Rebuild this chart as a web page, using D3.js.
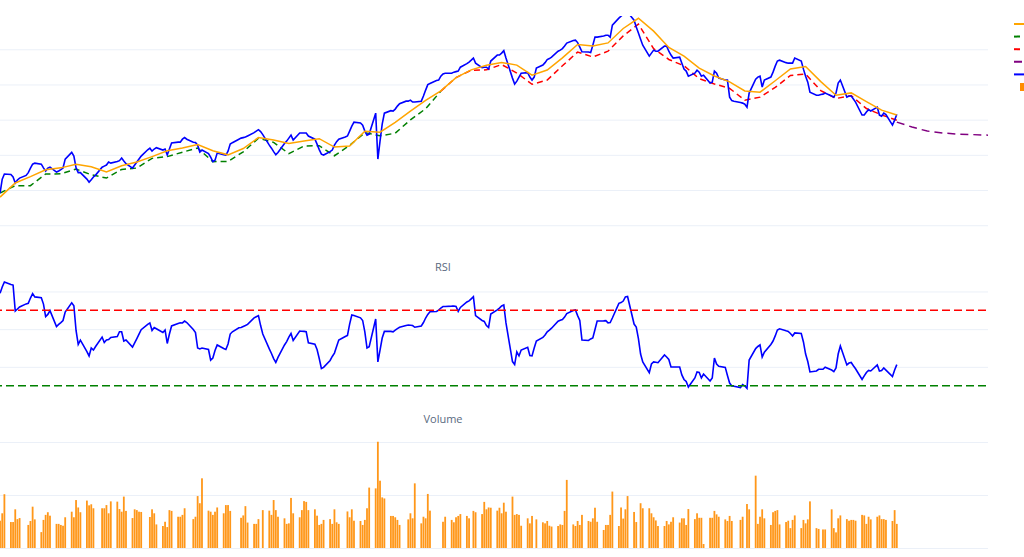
<!DOCTYPE html>
<html><head><meta charset="utf-8">
<script src="https://cdn.jsdelivr.net/npm/d3@7"></script>
<style>body{margin:0;background:#fff;overflow:hidden}svg{display:block}</style>
</head><body>
<svg id="chart" width="1024" height="557"></svg>
<script>
// ---------------- DATA ----------------
const startDate = "2023-12-13";   // first trading day shown
const endDate   = "2025-01-29";   // last trading day
// daily close (one value per weekday, Wed 2023-12-13 … Wed 2025-01-29)
const closeValues = [
118.3,126.2,129.1,
128.8,127.4,124.0,125.7,126.8, 128.3,129.9,132.5,134.7,135.3, 134.7,132.6,130.8,132.5,133.0,
130.2,130.8,131.6,132.5,137.6, 141.4,139.3,132.6,129.9,129.9, 126.2,124.5,125.9,127.4,128.5,
133.0,133.6,134.2,135.9,135.3, 136.2,136.7,138.2,136.5,135.0, 132.5,134.2,135.9,137.6,139.3,
142.9,143.8,142.1,143.3,144.1, 142.7,143.3,139.9,143.3,146.7, 147.2,147.2,148.9,149.8,148.9,
147.2,147.0,145.5,141.6,142.7, 140.7,138.7,136.2,137.0,141.0, 140.1,139.9,142.1,146.1,146.9,
148.9,149.5,149.8,150.1,150.7, 152.6,153.5,154.3,153.2,151.5, 145.5,143.8,141.8,140.1,141.3,
146.4,147.8,149.5,151.2,148.4, 152.4,152.4,152.4,152.4,150.7, 148.9,146.1,143.0,140.4,139.9,
141.8,142.7,145.5,147.5,148.9, 150.1,150.7,153.5,156.3,158.6, 158.1,156.9,153.5,151.2,151.8,
163.7,137.6,147.8,157.5,163.7, 165.1,164.9,166.0,167.7,169.1, 170.5,170.5,171.1,170.0,170.0,
170.5,173.4,176.8,179.9,180.5, 182.2,182.5,184.7,186.0,186.4, 186.4,187.0,187.3,187.6,189.8,
191.8,192.7,193.8,195.0,192.1, 189.6,189.8,189.8,188.7,193.3, 196.7,196.7,197.8,199.2,195.0,
183.6,180.2,181.9,184.2,186.4, 186.7,184.2,182.5,184.2,189.3, 191.0,192.4,194.1,194.7,195.5,
198.9,199.5,200.4,201.8,203.5, 205.0,205.2,203.8,201.2,198.6, 198.4,198.1,202.3,206.9,206.9,
207.5,208.0,208.0,206.9,213.7, 217.7,218.8,219.9,220.5,221.1, 216.5,212.6,209.2,205.7,202.3,
196.1,197.8,199.5,198.9,198.9, 201.8,201.8,198.9,196.7,195.0, 195.5,192.1,188.7,187.6,184.7,
186.4,188.1,187.0,184.7,185.3, 180.8,181.3,187.6,186.4,183.6, 182.5,182.5,172.8,170.8,170.5,
169.7,169.4,168.8,167.1,175.1, 183.0,184.2,184.7,178.5,182.5, 184.2,187.0,190.4,193.3,193.8,
192.4,192.1,192.1,192.1,195.0, 193.3,188.7,184.7,181.3,175.6, 173.9,173.9,174.3,174.5,175.1,
173.4,172.8,175.1,180.8,182.5, 172.8,173.4,173.4,171.7,170.0, 162.6,162.6,164.3,165.7,164.9,
167.1,162.6,162.0,163.7,162.9, 156.9,159.7,163.1
];
const rsiValues = [
79.0,82.4,85.0,
83.7,83.4,69.6,70.7,71.8, 73.4,73.7,76.5,78.9,77.1, 76.7,73.3,66.7,67.8,69.8,
61.4,62.5,63.5,64.6,69.1, 74.0,72.4,59.3,51.9,54.2, 48.1,45.8,50.0,48.9,50.8,
55.8,52.9,54.2,54.5,55.6, 56.1,58.6,58.6,53.7,54.2, 50.5,52.7,55.0,57.4,59.7,
62.5,63.3,59.3,60.9,60.2, 58.2,59.5,52.4,57.4,61.7, 63.0,63.4,63.3,64.3,63.5,
59.8,58.2,50.0,49.5,50.0, 49.2,43.6,44.7,48.7,51.6, 49.7,49.2,52.1,57.4,58.6,
60.7,60.9,61.4,61.9,62.5, 66.0,66.6,67.2,61.9,57.4, 49.5,47.1,44.4,42.3,45.0,
51.6,53.4,55.8,57.7,54.0, 59.0,58.9,58.8,58.6,52.8, 52.0,49.2,44.4,39.1,39.7,
43.4,45.5,47.3,50.8,54.2, 56.1,56.7,62.7,67.5,67.2, 66.0,64.6,58.5,50.0,50.7,
65.4,42.6,48.9,55.3,58.8, 58.8,58.6,59.5,60.3,61.0, 61.9,62.2,62.1,61.9,61.0,
61.7,63.5,65.9,67.8,69.2, 69.4,70.1,71.2,72.0,72.0, 72.2,72.3,72.0,69.4,71.5,
74.4,75.0,76.1,77.2,67.2, 64.6,64.1,61.9,60.9,68.0, 70.2,71.2,72.3,72.8,63.3,
42.8,41.2,47.9,45.8,48.9, 50.4,46.0,45.8,50.0,53.7, 55.6,56.9,58.6,59.5,60.5,
64.2,64.7,65.1,66.4,68.3, 69.9,70.2,67.2,64.6,54.2, 54.0,54.8,55.3,59.8,64.3,
64.4,64.5,63.3,63.5,65.9, 73.7,74.1,74.9,77.1,77.3, 62.7,61.1,55.0,46.8,42.6,
36.9,41.5,42.6,42.4,42.2, 46.3,45.2,43.9,39.9,39.9, 39.9,35.7,33.3,32.2,29.3,
34.1,37.3,37.0,34.1,36.2, 32.5,34.1,44.7,41.5,40.3, 39.7,35.4,31.4,29.8,29.7,
29.0,30.6,29.8,28.6,43.6, 49.7,50.8,51.6,45.2,47.8, 51.9,53.7,56.4,59.5,60.2,
59.1,58.8,57.7,56.4,58.0, 57.7,53.2,46.8,42.8,37.3, 37.8,38.7,38.7,38.7,39.8,
38.3,37.5,39.4,46.8,51.1, 41.0,42.0,42.3,40.6,39.0, 33.3,35.2,37.0,38.1,37.8,
41.0,37.8,38.1,39.4,38.3, 34.9,38.3,41.2
];
// volume in millions (null = no trading record that day)
const volumeValues = [
10.3,13.1,20.3,
9.8,9.8,14.6,10.9,11.3, null,8.7,10.2,15.6,10.8, 6.0,10.6,12.5,13.5,12.2,
9.1,9.1,8.7,8.4,11.6, 13.7,11.6,18.1,15.3,13.5, 17.9,16.1,16.5,15.0,null,
15.0,15.0,16.2,13.1,17.6, 17.5,14.7,13.7,19.4,14.0, 11.3,14.6,14.3,13.7,13.6,
null,11.7,14.6,13.1,8.9, 8.3,9.9,7.9,14.3,14.0, 11.8,11.8,12.5,15.0,null,
10.9,11.8,19.6,16.9,26.3, 14.1,13.7,12.5,13.7,15.3, 13.1,16.2,16.2,14.0,null,
null,11.4,12.3,15.8,9.6, 9.1,9.1,10.9,null,14.3, 14.1,12.5,18.1,14.3,11.8,
11.2,9.1,9.3,18.9,13.1, 11.6,14.3,17.7,17.4,14.3, 14.6,12.2,8.7,9.1,10.6,
10.9,9.1,14.6,9.7,9.1, null,13.8,11.6,14.6,10.3, 10.2,8.7,10.6,15.0,22.8,
22.5,40.1,25.4,19.1,18.7, 12.1,12.1,11.6,10.6,8.7, null,10.8,13.1,11.2,24.4,
9.3,11.8,11.2,20.4,14.1, null,null,null,9.9,11.8, 10.6,9.7,11.6,12.1,12.8,
12.1,11.2,null,14.0,13.5, 12.8,17.4,14.6,15.3,15.2, 14.1,15.2,13.1,17.1,13.7,
19.4,12.5,12.8,12.5,8.4, 11.2,9.3,12.1,null,10.8, 9.7,9.3,10.2,8.4,8.1,
8.3,8.9,8.7,14.0,25.7, 8.9,8.3,10.2,8.7,12.5, 10.2,9.9,11.2,15.2,9.9,
6.8,8.7,8.7,12.5,21.3, 8.3,15.3,11.1,14.6,19.6, 13.6,9.8,null,16.9,15.0,
15.0,13.1,11.6,10.4,8.3, 8.3,10.2,8.9,9.9,11.6, 9.6,11.2,11.2,8.7,14.7,
10.9,13.1,11.4,11.4,1.5, 11.4,11.4,14.0,12.7,11.8, 10.8,10.2,12.1,10.2,null,
10.6,11.8,null,16.6,14.6, 27.3,9.1,11.8,14.6,11.2, 8.7,13.5,14.0,14.3,8.9,
9.8,10.3,7.5,10.6,12.3, 7.5,10.6,9.3,10.8,17.6, 7.5,7.2,null,7.0,7.0,
14.6,7.5,5.9,11.2,12.3, 10.9,10.3,10.6,10.6,10.3, 12.5,12.3,9.1,11.8,10.8,
11.8,12.3,10.9,10.9,10.6, 10.2,14.3,9.1
];
// moving averages, read once a week (every Wednesday from 2023-12-13)
const smaFastValues = [116.0,124.0,127.6,131.5,132.6,134.7,133.2,130.3,133.8,135.9,
139.0,142.3,143.9,145.8,142.3,140.0,143.6,149.8,148.4,146.4,
147.9,149.2,144.4,145.0,153.4,152.9,158.4,164.8,171.0,176.4,
183.9,188.3,190.9,192.5,191.0,185.3,188.2,195.1,202.7,201.9,
203.6,211.8,217.6,210.3,201.0,196.1,189.3,184.8,181.5,176.3,
175.6,182.1,188.8,190.2,181.6,173.9,175.2,170.2,165.4,162.6];
const smaSlowValues = [118.3,122.5,122.5,129.1,129.2,131.9,128.7,126.8,131.7,132.5,
138.0,139.0,141.5,143.9,136.1,136.3,141.7,149.4,147.1,140.7,
145.0,145.2,139.5,145.4,152.6,150.8,152.3,159.9,166.2,176.2,
183.9,188.1,188.3,191.3,186.5,180.1,182.5,190.6,198.4,195.6,
198.9,207.6,214.3,200.3,194.2,190.6,183.3,180.3,177.8,171.0,
172.8,178.3,185.1,185.9,176.5,172.0,173.7,166.3,162.7,159.7];
const trendChangeWeek = 29;            // slow SMA: uptrend (green) up to here, downtrend (red) after
const forecastDates  = ["2025-01-29","2025-02-05","2025-02-12","2025-02-19","2025-02-26","2025-03-05","2025-03-12"];
const forecastValues = [158.6,155.8,153.5,152.4,151.8,151.5,151.2];
const monthTicks  = ["2024-01-01","2024-03-01","2024-05-01","2024-07-01","2024-09-01","2024-11-01","2025-01-01","2025-03-01"];
const priceTicks  = [100,120,140,160,180,200];
const rsiTicks    = [40,60,80];
const rsiLevels   = [70,30];
const volumeTicks = [0,20,40];
const legendNames = ["SMA 20","SMA 50 ↑","SMA 50 ↓","Forecast","Close","Volume"];

// ---------------- CHART ----------------
const parse = d3.utcParse("%Y-%m-%d");
const days = d3.utcDay.range(parse(startDate), d3.utcDay.offset(parse(endDate), 1))
  .filter(d => d.getUTCDay() !== 0 && d.getUTCDay() !== 6);
const weeks = d3.utcWednesday.range(parse(startDate), d3.utcDay.offset(parse(endDate), 1));

const svg = d3.select("#chart");
const L = -102, R = 988;
const x = d3.scaleUtc().domain([parse("2023-10-27"), parse("2025-03-12")]).range([L, R]);

const P = {top:16, bottom:246}, Q = {top:272.6, bottom:397}, V = {top:424.8, bottom:548};
const yP = d3.scaleLinear().domain([88.2, 218.9]).range([P.bottom, P.top]);
const yR = d3.scaleLinear().domain([24, 90]).range([Q.bottom, Q.top]);
const yV = d3.scaleLinear().domain([0, 46.5]).range([V.bottom, V.top]);

const defs = svg.append("defs");
[["clipP",P],["clipR",Q],["clipV",V]].forEach(([id,b]) =>
  defs.append("clipPath").attr("id", id).append("rect")
    .attr("x", L).attr("y", b.top).attr("width", R - L).attr("height", b.bottom - b.top));

const grid = "#ebf0f8";
function gridAxis(scale, ticks){
  const g = svg.append("g").attr("transform", `translate(${L},0)`)
    .call(d3.axisLeft(scale).tickValues(ticks).tickSize(-(R - L)).tickFormat(""));
  g.select(".domain").remove();
  g.selectAll(".tick line").attr("stroke", grid).attr("stroke-width", 1);
  return g;
}
gridAxis(yP, priceTicks);
gridAxis(yR, rsiTicks);
gridAxis(yV, volumeTicks);

// subplot titles
[["RSI", Q.top - 2], ["Volume", V.top - 2]].forEach(([t, yy]) =>
  svg.append("text").attr("x", (L + R) / 2).attr("y", yy).attr("text-anchor", "middle")
    .attr("font-family", "Open Sans").attr("font-size", 11).attr("fill", "#5a6a80").text(t));

// x tick labels (bottom axis, mostly below the visible area)
svg.append("g").attr("transform", `translate(0,${V.bottom})`)
  .call(d3.axisBottom(x).tickValues(monthTicks.map(parse)).tickSize(0).tickPadding(10).tickFormat(d3.utcFormat("%b %Y")))
  .call(g => g.select(".domain").remove())
  .selectAll("text").attr("fill", "#2a3f5f").attr("font-family", "Open Sans").attr("font-size", 12);

// volume bars
svg.append("g").attr("clip-path", "url(#clipV)").selectAll("rect")
  .data(days.map((d, i) => ({d, v: volumeValues[i]})).filter(o => o.v != null))
  .join("rect")
  .attr("x", o => x(o.d) - 0.9).attr("width", 1.8)
  .attr("y", o => yV(o.v)).attr("height", o => yV(0) - yV(o.v))
  .attr("fill", "#ff8c00").attr("opacity", 0.9);

// RSI
const gR = svg.append("g").attr("clip-path", "url(#clipR)");
gR.append("path").attr("fill", "none").attr("stroke", "blue").attr("stroke-width", 1.6)
  .attr("d", d3.line().x((d, i) => x(days[i])).y(d => yR(d))(rsiValues));
rsiLevels.forEach((lv, i) =>
  svg.append("line").attr("x1", L).attr("x2", R).attr("y1", yR(lv)).attr("y2", yR(lv))
    .attr("stroke", i === 0 ? "red" : "green").attr("stroke-width", 1.5)
    .attr("stroke-dasharray", "8,4"));

// price panel
const gP = svg.append("g").attr("clip-path", "url(#clipP)");
const wk = d3.line().x(d => x(d.d)).y(d => yP(d.v));
const slow = weeks.map((d, i) => ({d, v: smaSlowValues[i]}));
gP.append("path").attr("fill", "none").attr("stroke", "green").attr("stroke-width", 1.5)
  .attr("stroke-dasharray", "6,4").attr("d", wk(slow.slice(0, trendChangeWeek + 1)));
gP.append("path").attr("fill", "none").attr("stroke", "red").attr("stroke-width", 1.5)
  .attr("stroke-dasharray", "6,4").attr("d", wk(slow.slice(trendChangeWeek)));
gP.append("path").attr("fill", "none").attr("stroke", "purple").attr("stroke-width", 1.5)
  .attr("stroke-dasharray", "8,5").attr("d", wk(forecastDates.map((s, i) => ({d: parse(s), v: forecastValues[i]}))));
gP.append("path").attr("fill", "none").attr("stroke", "blue").attr("stroke-width", 1.6)
  .attr("d", d3.line().x((d, i) => x(days[i])).y(d => yP(d))(closeValues));
gP.append("path").attr("fill", "none").attr("stroke", "orange").attr("stroke-width", 1.5)
  .attr("d", wk(weeks.map((d, i) => ({d, v: smaFastValues[i]}))));

// legend (right side, names fall beyond the window edge)
const legend = [
  {c:"orange", dash:null}, {c:"green", dash:"6,4"}, {c:"red", dash:"6,4"},
  {c:"purple", dash:"8,5"}, {c:"blue", dash:null}, {c:"#ff8c00", bar:true}];
const lg = svg.append("g");
legend.forEach((it, i) => {
  const yy = 24 + i * 12.6;
  if (it.bar) lg.append("rect").attr("x", 1020).attr("y", yy - 4).attr("width", 10).attr("height", 8).attr("fill", it.c);
  else lg.append("line").attr("x1", 1014).attr("x2", 1044).attr("y1", yy).attr("y2", yy)
        .attr("stroke", it.c).attr("stroke-width", 2).attr("stroke-dasharray", it.dash);
  lg.append("text").attr("x", 1050).attr("y", yy + 3).attr("font-family", "Open Sans")
    .attr("font-size", 9).attr("fill", "#2a3f5f").text(legendNames[i]);
});
</script>
</body></html>
